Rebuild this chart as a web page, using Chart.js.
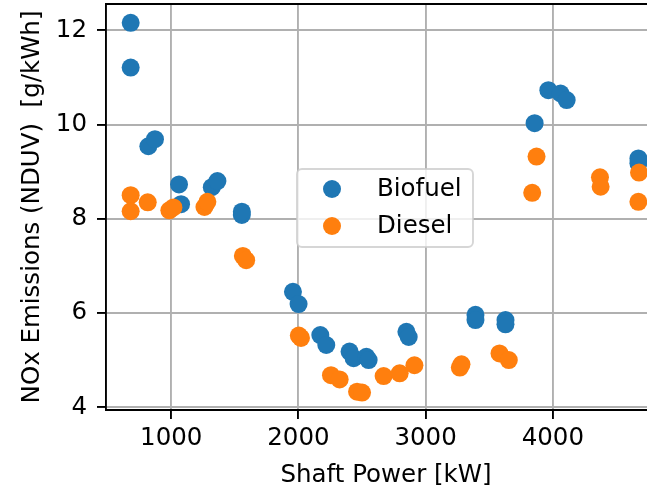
<!DOCTYPE html>
<html>
<head>
<meta charset="utf-8">
<script src="https://cdn.jsdelivr.net/npm/chart.js@4.4.0/dist/chart.umd.min.js"></script>
<style>
  html, body { margin: 0; padding: 0; background: #fff; overflow: hidden; }
  #wrap { width: 666px; height: 489px; }
</style>
</head>
<body>
<div id="wrap"><canvas id="nox-chart" width="666" height="489"></canvas></div>
<script>
// shaft power [kW] and NOx [g/kWh] per measurement
const biofuelPower = [681, 681, 820, 872, 1061, 1077, 1319, 1363, 1555, 1555,
    1957, 2001, 2172, 2219, 2402, 2434, 2534, 2552, 2849, 2867,
    3392, 3392, 3628, 3628, 3857, 3965, 4061, 4109, 4673, 4673]
const biofuelNox = [12.16, 11.21, 9.54, 9.69, 8.73, 8.31, 8.67, 8.80, 8.08, 8.15,
    6.45, 6.19, 5.53, 5.32, 5.18, 5.04, 5.07, 5.00, 5.60, 5.49,
    5.96, 5.85, 5.85, 5.76, 10.03, 10.73, 10.66, 10.52, 9.28, 9.18]

const dieselPower = [681, 681, 815, 985, 1017, 1261, 1284, 1563, 1589, 2003,
    2020, 2256, 2324, 2461, 2500, 2670, 2796, 2912, 3269, 3282,
    3581, 3654, 3838, 3872, 4371, 4376, 4678, 4673]
const dieselNox = [8.50, 8.16, 8.35, 8.18, 8.24, 8.25, 8.36, 7.21, 7.12, 5.52,
    5.47, 4.68, 4.59, 4.33, 4.31, 4.66, 4.72, 4.89, 4.84, 4.91,
    5.14, 5.00, 8.55, 9.32, 8.88, 8.68, 8.98, 8.36]

const xTicks = [1000, 2000, 3000, 4000]
const yTicks = [4, 6, 8, 10, 12]

const FONT = 'DejaVu Sans'
const FS = 24.5
const LW = 1.9
const DOT = 9

function toPoints(xs, ys) {
    return xs.map((x, i) => ({ x: x, y: ys[i] }))
}

// fixed axis box, no extra room for end labels
function fixX(s) {
    s.height = 79
    s.paddingLeft = 0
    s.paddingRight = 0
}
function fixY(s) {
    s.width = 106
    s.paddingTop = 0
    s.paddingBottom = 0
}

// legend box inside the plot plus the top spine
const boxLegend = {
    id: 'boxLegend',
    afterDraw(chart) {
        const ctx = chart.ctx
        const a = chart.chartArea
        ctx.save()
        ctx.strokeStyle = '#000'
        ctx.lineWidth = LW
        ctx.beginPath()
        ctx.moveTo(a.left - 1, a.top)
        ctx.lineTo(a.right, a.top)
        ctx.stroke()

        const bx = a.left + 191, by = a.top + 165, bw = 176, bh = 78, r = 5
        ctx.globalAlpha = 0.8
        ctx.fillStyle = '#fff'
        ctx.strokeStyle = '#cccccc'
        ctx.lineWidth = LW
        ctx.beginPath()
        ctx.roundRect(bx, by, bw, bh, r)
        ctx.fill()
        ctx.stroke()
        ctx.globalAlpha = 1

        ctx.font = FS + 'px "' + FONT + '"'
        ctx.textBaseline = 'middle'
        ctx.textAlign = 'left'
        chart.data.datasets.forEach((ds, i) => {
            const cy = by + 20 + i * 37
            ctx.fillStyle = ds.backgroundColor
            ctx.beginPath()
            ctx.arc(bx + 35, cy, DOT, 0, Math.PI * 2)
            ctx.fill()
            ctx.fillStyle = '#000'
            ctx.fillText(ds.label, bx + 80, cy + 1)
        })
        ctx.restore()
    }
}

function drawChart() {
    const ctx = document.getElementById('nox-chart')
    new Chart(ctx, {
        type: 'scatter',
        data: {
            datasets: [{
                label: 'Biofuel',
                data: toPoints(biofuelPower, biofuelNox),
                backgroundColor: '#1f77b4',
                pointRadius: DOT,
                pointBorderWidth: 0,
                order: 1
            }, {
                label: 'Diesel',
                data: toPoints(dieselPower, dieselNox),
                backgroundColor: '#ff7f0e',
                pointRadius: DOT,
                pointBorderWidth: 0,
                order: 0
            }]
        },
        options: {
            responsive: false,
            animation: false,
            layout: { autoPadding: false, padding: { top: 4, left: 0, right: 0, bottom: 0 } },
            plugins: {
                legend: { display: false },
                tooltip: { enabled: false }
            },
            scales: {
                x: {
                    type: 'linear',
                    min: 487,
                    max: 4890,
                    afterBuildTicks: s => { s.ticks = xTicks.map(v => ({ value: v })) },
                    afterFit: fixX,
                    grid: { color: '#b0b0b0', lineWidth: LW, tickColor: '#000', tickLength: 9, tickWidth: LW },
                    border: { color: '#000', width: LW },
                    ticks: {
                        color: '#000', padding: 5, maxRotation: 0,
                        font: { family: FONT, size: FS },
                        callback: v => String(v)
                    },
                    title: {
                        display: true,
                        text: 'Shaft Power [kW]',
                        color: '#000',
                        font: { family: FONT, size: FS },
                        padding: { top: 0, bottom: -1 }
                    }
                },
                y: {
                    type: 'linear',
                    min: 3.94,
                    max: 12.56,
                    afterBuildTicks: s => { s.ticks = yTicks.map(v => ({ value: v })) },
                    afterFit: fixY,
                    grid: { color: '#b0b0b0', lineWidth: LW, tickColor: '#000', tickLength: 9, tickWidth: LW },
                    border: { color: '#000', width: LW },
                    ticks: {
                        color: '#000', padding: 10,
                        font: { family: FONT, size: FS },
                        callback: v => String(v)
                    },
                    title: {
                        display: true,
                        text: 'NOx Emissions (NDUV)  [g/kWh]',
                        color: '#000',
                        font: { family: FONT, size: FS },
                        padding: { top: 18, bottom: 0 }
                    }
                }
            }
        },
        plugins: [boxLegend]
    })
}

drawChart()
</script>
</body>
</html>
